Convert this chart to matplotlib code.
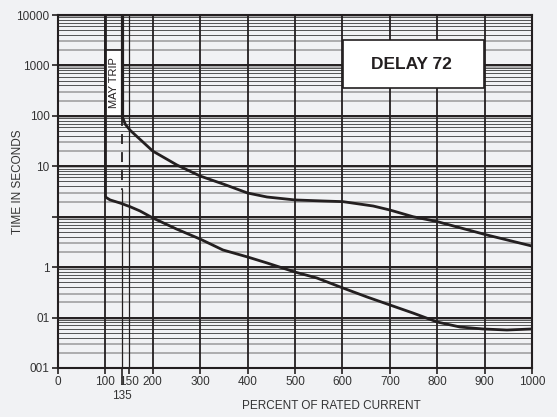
import matplotlib
matplotlib.use('Agg')
import matplotlib.pyplot as plt
from matplotlib.patches import Rectangle

# trip curves (percent of rated current, seconds)
upper_x = [135, 142, 152, 200, 251, 300, 350, 400, 441, 500, 560, 601, 665, 700, 749, 800, 905, 1000]
upper_y = [100, 68, 52, 20, 10.6, 6.4, 4.4, 2.95, 2.46, 2.15, 2.05, 1.99, 1.63, 1.36, 1.0, 0.80, 0.434, 0.262]

lower_x = [100, 110, 131, 152, 173, 200, 250, 300, 348, 400, 441, 500, 546, 601, 652, 700,
           749, 800, 848, 897, 947, 1000]
lower_y = [2.46, 2.15, 1.87, 1.58, 1.30, 0.944, 0.57, 0.36, 0.219, 0.159, 0.121, 0.080, 0.061,
           0.0386, 0.0256, 0.0178, 0.0123, 0.00817, 0.0065, 0.00594, 0.00567, 0.00594]

x_ticks = [0, 100, 135, 150, 200, 300, 400, 500, 600, 700, 800, 900, 1000]
x_labels = ['0', '100', '', '150', '200', '300', '400', '500', '600', '700', '800', '900', '1000']
y_ticks = [1e4, 1e3, 1e2, 1e1, 1e0, 1e-1, 1e-2, 1e-3]
y_labels = ['10000', '1000', '100', '10', '', '1', '01', '001']
minor_steps = [2, 3, 4, 5, 6, 7, 8, 9, 9.5]

plt.rcParams['font.family'] = ['Liberation Sans', 'DejaVu Sans']
ink = '#231f20'
bg = '#f1f2f4'

fig = plt.figure(figsize=(5.57, 4.17), dpi=100, facecolor=bg)
ax = fig.add_axes([58 / 557, 1 - 368 / 417, 474 / 557, 353 / 417])
ax.set_facecolor(bg)
ax.set_yscale('log')
ax.set_xlim(0, 1000)
ax.set_ylim(1e-3, 1e4)

# horizontal grid: decades and minor lines
for d in range(-3, 4):
    base = 10.0 ** d
    ax.axhline(base, color=ink, lw=1.4, zorder=1)
    for m in minor_steps:
        if m in (2, 3, 9.5):
            ax.axhline(base * m, color='#9a9a9a', lw=1.1, zorder=1)
        else:
            ax.axhline(base * m, color='#3a3a3a', lw=0.6, zorder=1)

# vertical grid
for v in range(100, 1001, 100):
    ax.axvline(v, color=ink, lw=1.3, zorder=2)
ax.axvline(150, color=ink, lw=0.9, zorder=2)

# boxes
ax.add_patch(Rectangle((100, 100), 35, 2020 - 100, fc='white', ec=ink, lw=1.2, zorder=3))
ax.text(117.5, 449, 'MAY TRIP', rotation=90, ha='center', va='center', fontsize=8,
        color=ink, zorder=4)
ax.add_patch(Rectangle((601, 357), 298, 3190 - 357, fc='white', ec=ink, lw=1.2, zorder=3))
ax.text(745, 1067, 'DELAY 72', ha='center', va='center', fontsize=12.5, fontweight='bold',
        color=ink, zorder=4)

# may-trip boundaries
ax.plot([100, 100], [1e4, lower_y[0]], color=ink, lw=2.0, zorder=5, solid_capstyle='butt')
ax.plot([135, 135], [1e4, 100], color=ink, lw=2.3, zorder=5, solid_capstyle='butt')
dash, = ax.plot([135, 135], [100, 3.4], color=ink, lw=1.3, zorder=5)
dash.set_dashes((5.5, 4.5))
ax.plot([135, 135], [3.4, 1e-3], color=ink, lw=0.9, zorder=5)

# curves
ax.plot(upper_x, upper_y, color=ink, lw=2.0, zorder=6, solid_capstyle='butt')
ax.plot(lower_x, lower_y, color=ink, lw=2.0, zorder=6, solid_capstyle='butt')

for s in ax.spines.values():
    s.set_color(ink)
    s.set_linewidth(1.5)
    s.set_zorder(7)

ax.set_xticks(x_ticks)
ax.set_xticklabels(x_labels)
ax.set_yticks(y_ticks)
ax.set_yticklabels(y_labels)
ax.yaxis.set_minor_locator(matplotlib.ticker.NullLocator())
ax.tick_params(direction='out', length=4, width=1.2, color=ink, labelcolor='#333333',
               labelsize=8.5, pad=2)
ax.xaxis.get_major_ticks()[2].tick1line.set_markersize(12)
ax.text(135, -0.08, '135', transform=ax.get_xaxis_transform(), ha='center', va='center',
        fontsize=8.5, color='#333333')

fig.text(18 / 557, 1 - 182 / 417, 'TIME IN SECONDS', rotation=90, ha='center', va='center',
         fontsize=8.5, color='#333333')
fig.text(331 / 557, 1 - 406 / 417, 'PERCENT OF RATED CURRENT', ha='center', va='center',
         fontsize=8.5, color='#333333')

plt.savefig('out.png', dpi=100, facecolor=bg)
plt.close('all')
